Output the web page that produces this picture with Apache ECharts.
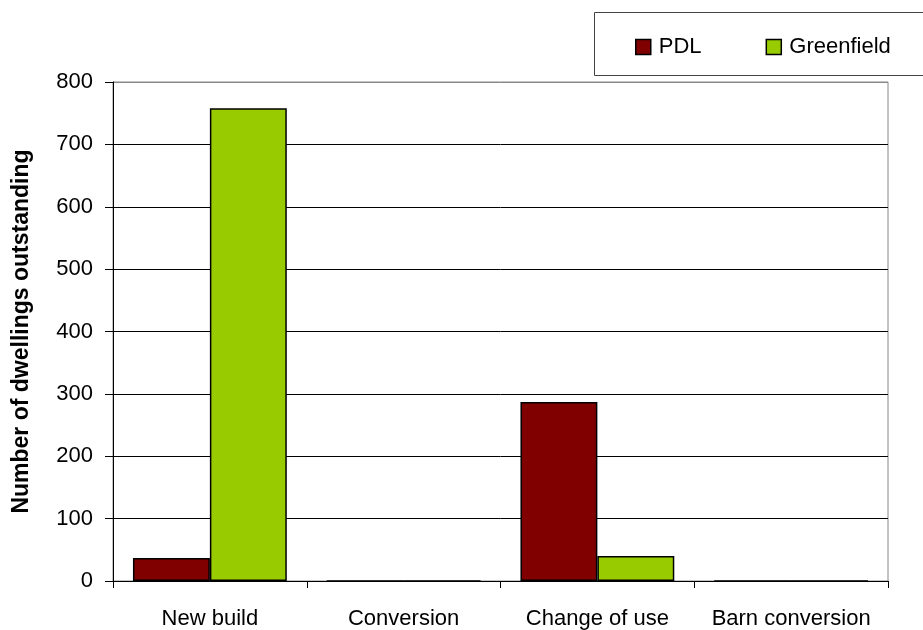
<!DOCTYPE html>
<html>
<head>
<meta charset="utf-8">
<script src="https://cdn.jsdelivr.net/npm/echarts@6/dist/echarts.min.js"></script>
<style>
  html, body { margin: 0; padding: 0; background: #fff; }
  #chart { width: 923px; height: 630px; }
</style>
</head>
<body>
<div id="chart"></div>
<script>
// Dwellings outstanding by development type
const categories = ['New build', 'Conversion', 'Change of use', 'Barn conversion'];
const pdlValues = [37, 0, 287, 0];
const greenfieldValues = [758, 0, 40, 0];
const yTicks = [0, 100, 200, 300, 400, 500, 600, 700, 800];

const font = 'Liberation Sans, Arial, sans-serif';
const chart = echarts.init(document.getElementById('chart'), null, { renderer: 'canvas' });

// gridlines are black, the top one coincides with the grey plot frame
const splitColors = yTicks.map((v, i) => (i === yTicks.length - 1 ? '#888888' : '#000000'));

chart.setOption({
  animation: false,
  backgroundColor: '#ffffff',
  textStyle: { fontFamily: font },
  graphic: [{
    type: 'rect',
    shape: { x: 594.5, y: 12.5, width: 340, height: 63 },
    style: { fill: '#ffffff', stroke: '#444444', lineWidth: 1 },
    z: 0
  }],
  legend: {
    left: 630,
    top: 31,
    itemWidth: 15,
    itemHeight: 15,
    itemGap: 64,
    icon: 'rect',
    textStyle: { fontFamily: font, fontSize: 22, color: '#000', padding: [0, 0, 0, 3] },
    data: [
      { name: 'PDL', itemStyle: { borderColor: '#000', borderWidth: 1.5 } },
      { name: 'Greenfield', itemStyle: { borderColor: '#000', borderWidth: 1.5 } }
    ],
    z: 5
  },
  grid: { left: 113, right: 35, top: 82, bottom: 49, show: true, borderColor: '#888888', borderWidth: 1 },
  xAxis: {
    type: 'category',
    data: categories,
    boundaryGap: true,
    axisLine: { lineStyle: { color: '#000', width: 1 } },
    axisTick: { show: true, length: 7, lineStyle: { color: '#000' } },
    axisLabel: { fontFamily: font, fontSize: 22, color: '#000', margin: 27, interval: 0, hideOverlap: false }
  },
  yAxis: {
    type: 'value',
    min: yTicks[0],
    max: yTicks[yTicks.length - 1],
    interval: 100,
    name: 'Number of dwellings outstanding',
    nameLocation: 'middle',
    nameGap: 80,
    nameTextStyle: { fontFamily: font, fontSize: 23, fontWeight: 'bold', color: '#000' },
    axisLine: { show: true, lineStyle: { color: '#000', width: 1 } },
    axisTick: { show: true, length: 8, lineStyle: { color: '#000' } },
    axisLabel: { fontFamily: font, fontSize: 22, color: '#000', margin: 20 },
    splitLine: { show: true, lineStyle: { color: splitColors, width: 1 } }
  },
  series: [
    {
      name: 'PDL',
      type: 'bar',
      data: pdlValues,
      barGap: '0%',
      barCategoryGap: '20.6%',
      itemStyle: { color: '#800000', borderColor: '#000', borderWidth: 1.5 }
    },
    {
      name: 'Greenfield',
      type: 'bar',
      data: greenfieldValues,
      barGap: '0%',
      barCategoryGap: '20.6%',
      itemStyle: { color: '#99cc00', borderColor: '#000', borderWidth: 1.5 }
    }
  ]
});
</script>
</body>
</html>
